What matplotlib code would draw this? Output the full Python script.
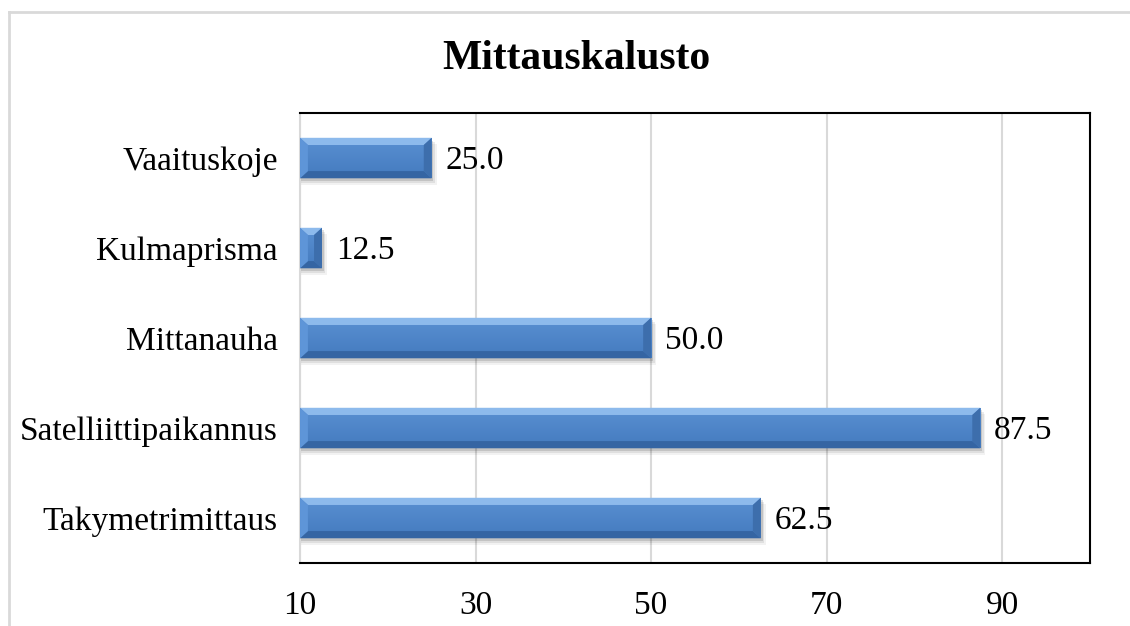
import numpy as np
from matplotlib import pyplot as plt
from matplotlib.patches import Polygon
from matplotlib.lines import Line2D
from matplotlib.colors import LinearSegmentedColormap

# data (bottom to top)
categories = ['Takymetrimittaus', 'Satelliittipaikannus', 'Mittanauha',
              'Kulmaprisma', 'Vaaituskoje']
values = [62.5, 87.5, 50.0, 12.5, 25.0]
xticks = [10, 30, 50, 70, 90]

plt.rcParams['font.family'] = ['Liberation Serif', 'DejaVu Serif']

fig = plt.figure(figsize=(11.3, 6.26), dpi=100)
ax = fig.add_axes([0.2655, 0.1006, 0.699, 0.7188])

# outer chart frame (cropped)
fig.add_artist(Line2D([9/1130, 1.0], [1 - 12/626, 1 - 12/626],
                      transform=fig.transFigure, color='#d9d9d9', lw=2))
fig.add_artist(Line2D([9/1130, 9/1130], [0, 1 - 12/626],
                      transform=fig.transFigure, color='#d9d9d9', lw=2))

base = 10
h = 0.45
bx = 0.9    # bevel size in x units
by = 0.08   # bevel size in y units

y = np.arange(len(categories))
bars = ax.barh(y, np.array(values) - base, left=base, height=h,
               color='#4f86c8', zorder=3)

# soft shadow
for dy, dw, a in [(0.03, 0.2, 0.12), (0.05, 0.4, 0.08), (0.07, 0.6, 0.05)]:
    ax.barh(y - dy, np.array(values) - base + dw, left=base, height=h,
            color='black', alpha=a, zorder=2, lw=0)

grad = np.linspace(0, 1, 100).reshape(-1, 1)
cmap = LinearSegmentedColormap.from_list('b', ['#447bbf', '#5a90d2'])

for b in bars:
    x0 = b.get_x()
    y0 = b.get_y()
    x1 = x0 + b.get_width()
    y1 = y0 + b.get_height()
    im = ax.imshow(grad, extent=[x0, x1, y0, y1], origin='lower',
                   cmap=cmap, aspect='auto', zorder=3.5)
    im.set_clip_path(b)
    bxx = min(bx, (x1 - x0) / 2)
    top = Polygon([(x0, y1), (x1, y1), (x1 - bxx, y1 - by), (x0 + bxx, y1 - by)],
                  closed=True, color='#8dbaec', zorder=4, lw=0)
    bot = Polygon([(x0, y0), (x1, y0), (x1 - bxx, y0 + by), (x0 + bxx, y0 + by)],
                  closed=True, color='#3565a3', zorder=4, lw=0)
    left = Polygon([(x0, y0), (x0, y1), (x0 + bxx, y1 - by), (x0 + bxx, y0 + by)],
                   closed=True, color='#5e95d8', zorder=4, lw=0)
    right = Polygon([(x1, y0), (x1, y1), (x1 - bxx, y1 - by), (x1 - bxx, y0 + by)],
                    closed=True, color='#3d6eac', zorder=4, lw=0)
    for p in (top, bot, left, right):
        ax.add_patch(p)

for yi, v in zip(y, values):
    ax.annotate(f'{v:.1f}', (v, yi - 0.03), xytext=(10, 0), textcoords='offset points',
                va='center', ha='left', fontsize=24, zorder=5)

ax.set_xlim(10, 100)
ax.set_ylim(-0.5, len(categories) - 0.5)
ax.set_xticks(xticks)
ax.set_yticks(y)
ax.set_yticklabels(categories)
ax.tick_params(axis='x', length=0, pad=20, labelsize=24)
ax.tick_params(axis='y', length=0, pad=16, labelsize=24)
ax.xaxis.grid(True, color='#d9d9d9', lw=1.5, zorder=0)
ax.set_axisbelow(True)

for s in ('top', 'right', 'bottom'):
    ax.spines[s].set_color('black')
    ax.spines[s].set_linewidth(1.5)
ax.spines['left'].set_color('#d9d9d9')
ax.spines['left'].set_linewidth(1.5)

fig.text(576/1130, 1 - 59/626, 'Mittauskalusto', ha='center', va='center',
         fontsize=30, fontweight='bold')

fig.savefig('out.png', dpi=100)
